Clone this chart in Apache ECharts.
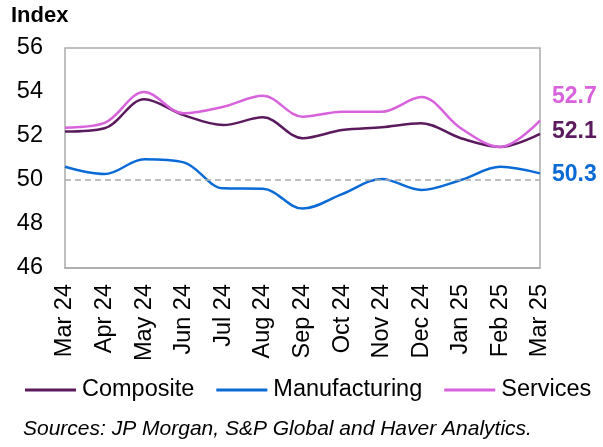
<!DOCTYPE html>
<html><head><meta charset="utf-8">
<script src="https://cdn.jsdelivr.net/npm/echarts@6/dist/echarts.min.js"></script>
<style>html,body{margin:0;padding:0;background:#fff}#c{width:603px;height:447px}</style>
</head><body><div id="c"></div>
<script>
const categories = ['Mar 24','Apr 24','May 24','Jun 24','Jul 24','Aug 24','Sep 24','Oct 24','Nov 24','Dec 24','Jan 25','Feb 25','Mar 25'];
const composite = [52.2, 52.35, 53.67, 52.95, 52.5, 52.85, 51.9, 52.27, 52.4, 52.58, 51.9, 51.5, 52.1];
const manufacturing = [50.6, 50.27, 50.94, 50.8, 49.62, 49.6, 48.7, 49.36, 50.05, 49.55, 50.0, 50.6, 50.3];
const services = [52.38, 52.6, 54.0, 53.03, 53.33, 53.83, 52.88, 53.1, 53.1, 53.77, 52.35, 51.5, 52.7];
const yTicks = [46, 48, 50, 52, 54, 56];

const FONT = 'Liberation Sans, Arial, sans-serif';
const C1 = '#5c1a5e', C2 = '#0a6bd6', C3 = '#d862dc';
const chart = echarts.init(document.getElementById('c'), null, {renderer: 'canvas'});
function endLbl(color, off) {
  return {show: true, formatter: p => p.value.toFixed(1), color: color, fontSize: 23, fontWeight: 'bold',
    fontFamily: FONT, distance: 12, offset: off};
}
chart.setOption({
  animation: false,
  textStyle: {fontFamily: FONT},
  title: [
    {text: 'Index', left: 11, top: 5, padding: 0, textStyle: {fontSize: 22, fontWeight: 'bold', color: '#000', fontFamily: FONT}},
    {text: 'Sources: JP Morgan, S&P Global and Haver Analytics.', left: 23, top: 419, padding: 0,
     textStyle: {fontSize: 21, fontStyle: 'italic', fontWeight: 'normal', color: '#000', fontFamily: FONT}}
  ],
  grid: {left: 65, right: 63, top: 48, bottom: 179, show: true, borderColor: '#aaa', borderWidth: 1.5, containLabel: false},
  legend: {
    top: 377, left: 25, itemWidth: 51, itemHeight: 3, itemGap: 22, padding: 0,
    icon: 'rect',
    textStyle: {fontSize: 23.5, color: '#000', fontFamily: FONT, lineHeight: 26, padding: [0,0,0,1]},
    data: ['Composite', 'Manufacturing', 'Services']
  },
  xAxis: {
    type: 'category', data: categories, boundaryGap: false,
    axisLine: {show: true, lineStyle: {color: '#aaa', width: 1.5}},
    axisTick: {show: false},
    axisLabel: {rotate: 90, fontSize: 23.5, color: '#000', margin: 16, fontFamily: FONT},
    splitLine: {show: false}
  },
  yAxis: {
    type: 'value', min: yTicks[0], max: yTicks[yTicks.length-1], interval: 2,
    axisLine: {show: false}, axisTick: {show: false}, splitLine: {show: false},
    axisLabel: {fontSize: 23.5, color: '#000', margin: 22, fontFamily: FONT}
  },
  series: [
    {name: 'Composite', type: 'line', data: composite, smooth: 0.35, symbol: 'none',
     lineStyle: {color: C1, width: 2.5}, itemStyle: {color: C1}, z: 3,
     endLabel: endLbl(C1, [0, -2])},
    {name: 'Manufacturing', type: 'line', data: manufacturing, smooth: 0.35, symbol: 'none',
     lineStyle: {color: C2, width: 2.5}, itemStyle: {color: C2}, z: 3,
     endLabel: endLbl(C2, [0, 1]),
     markLine: {silent: true, symbol: 'none', label: {show: false},
       lineStyle: {color: '#aaa', type: [6, 4], width: 1.5}, data: [{yAxis: 50}]}},
    {name: 'Services', type: 'line', data: services, smooth: 0.35, symbol: 'none',
     lineStyle: {color: C3, width: 2.5}, itemStyle: {color: C3}, z: 3,
     endLabel: endLbl(C3, [0, -24])}
  ]
});
</script></body></html>
